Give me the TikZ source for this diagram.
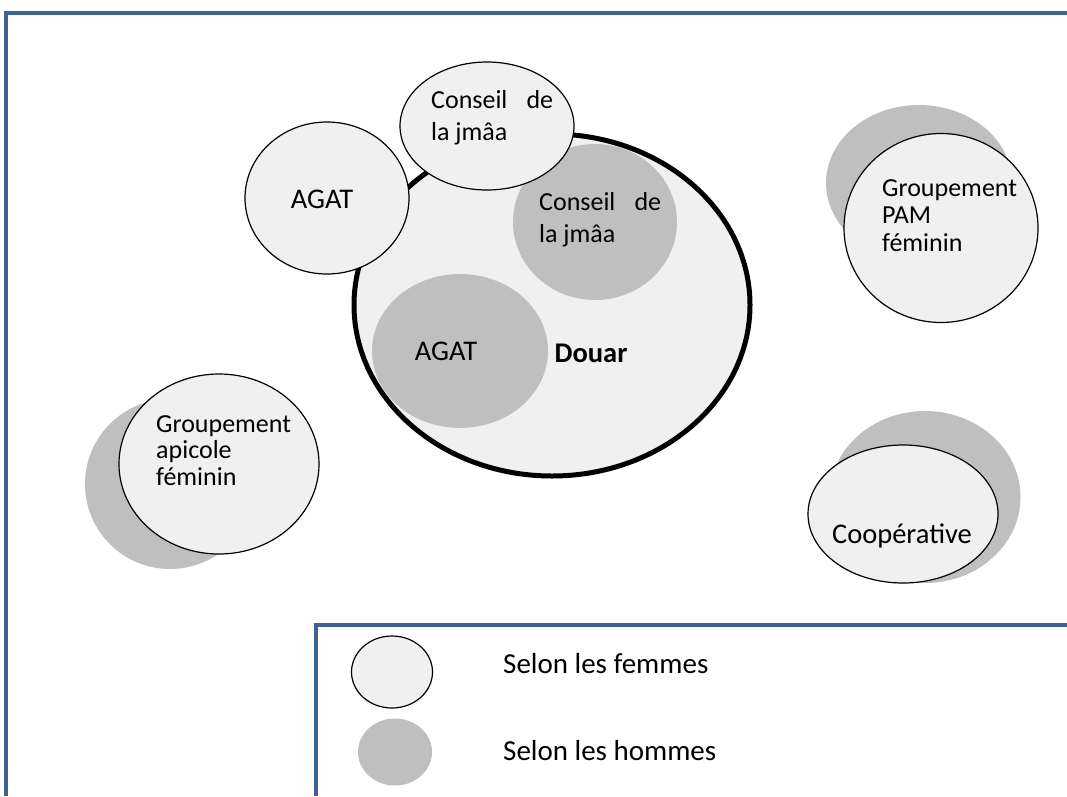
\documentclass[tikz,border=0pt]{standalone}
\usepackage{fontspec}
\setmainfont{Carlito}
\usetikzlibrary{shapes.geometric}
\definecolor{frameblue}{RGB}{63,98,145}
\definecolor{femme}{RGB}{240,240,240}
\definecolor{homme}{RGB}{191,191,191}
\begin{document}
\begin{tikzpicture}[x=1pt,y=-1pt,
  femmes/.style={ellipse, draw=black, line width=1.2pt, fill=femme, inner sep=0pt, outer sep=0pt},
  hommes/.style={ellipse, fill=homme, inner sep=0pt, outer sep=0pt},
  txt/.style={inner sep=0pt, font=\fontsize{26}{27.5}\selectfont, align=left, anchor=base west},
  bigtxt/.style={inner sep=0pt, font=\fontsize{28.5}{30}\selectfont, anchor=base},
  frameline/.style={draw=frameblue, line width=4pt}]
\useasboundingbox (0,0) rectangle (1067,796);
% frames
\draw[frameline] (1067,13) -- (5.5,13) -- (5.5,796);
\draw[frameline] (1067,625) -- (316,625) -- (316,796);
% Douar
\node[ellipse, draw=black, line width=5pt, fill=femme, inner sep=0pt, minimum width=396pt, minimum height=342pt] (douar) at (552,305) {};
\node[hommes, minimum width=164pt, minimum height=156pt] (cjh) at (595,222) {};
\node[hommes, minimum width=176pt, minimum height=154pt] (agath) at (460,351) {};
\node[femmes, minimum width=174pt, minimum height=128pt] (cjf) at (487,126) {};
\node[femmes, minimum width=164pt, minimum height=152pt] (agatf) at (327,198) {};
% PAM
\node[hommes, minimum width=186pt, minimum height=156pt] (pamh) at (919,183) {};
\node[femmes, minimum width=194pt, minimum height=189pt] (pamf) at (941,228) {};
% apicole
\node[hommes, minimum width=170pt, minimum height=170pt] (apih) at (170,484) {};
\node[femmes, minimum width=200pt, minimum height=180pt] (apif) at (219,464) {};
% cooperative
\node[hommes, minimum width=191pt, minimum height=172pt] (cooph) at (925,497) {};
\node[femmes, minimum width=190pt, minimum height=138pt] (coopf) at (903,514) {};
% legend
\node[femmes, minimum width=81pt, minimum height=72pt] (legf) at (392,672) {};
\node[hommes, minimum width=74pt, minimum height=67pt] (legh) at (395,752) {};
% texts
\node[txt, font=\fontsize{26}{32}\selectfont] (tcjf) at (431,140) {\makebox[122pt][s]{Conseil de}\\la jmâa};
\node[txt, font=\fontsize{26}{32}\selectfont] (tcjh) at (539,242) {\makebox[122pt][s]{Conseil de}\\la jmâa};
\node[bigtxt] (tagatf) at (322,208) {AGAT};
\node[bigtxt] (tagath) at (446,360) {AGAT};
\node[bigtxt, font=\fontsize{28.5}{30}\selectfont\bfseries] (tdouar) at (591,362) {Douar};
\node[txt, font=\fontsize{26}{27.5}\selectfont] (tpam) at (882,251) {Groupement\\PAM\\féminin};
\node[txt, font=\fontsize{26}{26.5}\selectfont] (tapi) at (156,485) {Groupement\\apicole\\féminin};
\node[bigtxt] (tcoop) at (902,543) {Coopérative};
\node[txt, font=\fontsize{29}{30}\selectfont] (tlf) at (503,673) {Selon les femmes};
\node[txt, font=\fontsize{29}{30}\selectfont] (tlh) at (503,760) {Selon les hommes};
\end{tikzpicture}
\end{document}
